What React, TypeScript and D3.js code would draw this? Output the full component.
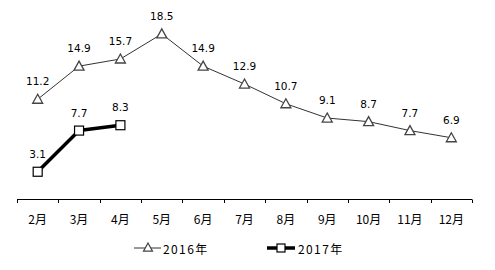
import React from "react";
import * as d3 from "d3";

const months = ["2月", "3月", "4月", "5月", "6月", "7月", "8月", "9月", "10月", "11月", "12月"];
const values2016 = [11.2, 14.9, 15.7, 18.5, 14.9, 12.9, 10.7, 9.1, 8.7, 7.7, 6.9];
const values2017 = [3.1, 7.7, 8.3];
const seriesNames = ["2016年", "2017年"];

const W = 495;
const H = 270;

function triPath(cx: number, cy: number, s = 5) {
  return `M${cx},${cy - s}L${cx + s},${cy + s * 0.8}L${cx - s},${cy + s * 0.8}Z`;
}

export default function App() {
  const x = d3.scaleBand<string>().domain(months).range([17, 472]).padding(0);
  const y = d3.scaleLinear().domain([0, 20]).range([199.5, 20.5]);
  const cx = (i: number) => (x(months[i]) as number) + x.bandwidth() / 2;

  const line = d3
    .line<number>()
    .x((_, i) => cx(i))
    .y((d) => y(d));

  const tickXs = months.map((m) => x(m) as number).concat([472]);
  const labelFont = "DejaVu Sans, sans-serif";
  const cjkFont = "'Noto Sans CJK SC', sans-serif";

  return (
    <svg
      width={W}
      height={H}
      style={{ position: "absolute", left: 0, top: 0, background: "#fff" }}
    >
      <rect x={0} y={0} width={W} height={H} fill="#fff" />
      {/* axis */}
      <line x1={17} x2={472} y1={199.5} y2={199.5} stroke="#000" strokeWidth={1} />
      {tickXs.map((t, i) => (
        <line key={i} x1={Math.round(t) + 0.5} x2={Math.round(t) + 0.5} y1={199.5} y2={203} stroke="#000" strokeWidth={1} />
      ))}
      {months.map((m, i) => (
        <text
          key={m}
          x={cx(i)}
          y={218}
          textAnchor="middle"
          dominantBaseline="central"
          fontFamily={cjkFont}
          fontSize={12}
          fill="#000"
        >
          {m}
        </text>
      ))}

      {/* 2016 series */}
      <path d={line(values2016) || ""} fill="none" stroke="#333" strokeWidth={1} />
      {values2016.map((v, i) => (
        <path key={i} d={triPath(cx(i), y(v))} fill="#fff" stroke="#444" strokeWidth={1.3} />
      ))}
      {values2016.map((v, i) => (
        <text
          key={"l" + i}
          x={cx(i)}
          y={y(v) - 14}
          textAnchor="middle"
          fontFamily={labelFont}
          fontSize={10.5}
          fill="#000"
        >
          {v.toFixed(1)}
        </text>
      ))}

      {/* 2017 series */}
      <path d={line(values2017) || ""} fill="none" stroke="#000" strokeWidth={3.5} strokeLinejoin="round" />
      {values2017.map((v, i) => (
        <rect key={i} x={cx(i) - 4.5} y={y(v) - 4.5} width={9} height={9} fill="#fff" stroke="#000" strokeWidth={1.2} />
      ))}
      {values2017.map((v, i) => (
        <text
          key={"m" + i}
          x={cx(i)}
          y={y(v) - 14}
          textAnchor="middle"
          fontFamily={labelFont}
          fontSize={10.5}
          fill="#000"
        >
          {v.toFixed(1)}
        </text>
      ))}

      {/* legend */}
      <line x1={134} x2={161} y1={248} y2={248} stroke="#333" strokeWidth={1} />
      <path d={triPath(148, 247.5, 4.5)} fill="#fff" stroke="#444" strokeWidth={1.2} />
      <text x={163} y={248} dominantBaseline="central" fontFamily={cjkFont} fontSize={12} letterSpacing={1.4} fill="#000">
        {seriesNames[0]}
      </text>
      <line x1={267} x2={295} y1={248} y2={248} stroke="#000" strokeWidth={3.5} />
      <rect x={277} y={244} width={8} height={8} fill="#fff" stroke="#000" strokeWidth={1.2} />
      <text x={298} y={248} dominantBaseline="central" fontFamily={cjkFont} fontSize={12} letterSpacing={1.4} fill="#000">
        {seriesNames[1]}
      </text>
    </svg>
  );
}
